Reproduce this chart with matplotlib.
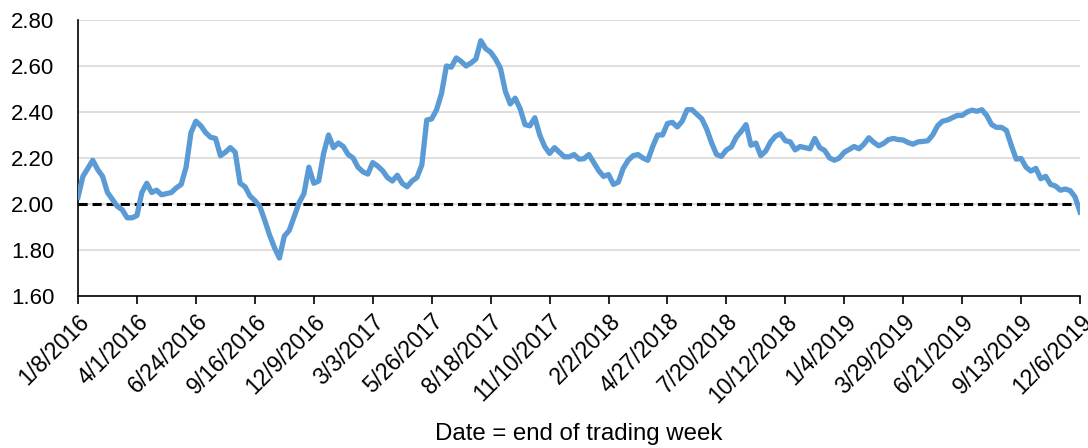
import matplotlib
matplotlib.use("Agg")
import matplotlib.pyplot as plt
import pandas as pd

# Weekly values, end of trading week, starting 1/8/2016
start_date = "2016-01-08"
values = [
    2.03, 2.12, 2.155, 2.19, 2.15, 2.12, 2.05, 2.02, 1.99, 1.975,
    1.94, 1.94, 1.95, 2.05, 2.09, 2.05, 2.06, 2.04, 2.045, 2.05,
    2.07, 2.085, 2.16, 2.31, 2.36, 2.34, 2.31, 2.29, 2.285, 2.21,
    2.225, 2.245, 2.225, 2.09, 2.075, 2.035, 2.015, 1.99, 1.93, 1.865,
    1.81, 1.765, 1.86, 1.885, 1.945, 2.005, 2.045, 2.16, 2.09, 2.10,
    2.22, 2.30, 2.245, 2.265, 2.25, 2.215, 2.20, 2.16, 2.14, 2.13,
    2.18, 2.165, 2.145, 2.115, 2.10, 2.125, 2.09, 2.075, 2.10, 2.115,
    2.17, 2.365, 2.37, 2.41, 2.48, 2.60, 2.595, 2.635, 2.62, 2.60,
    2.613, 2.63, 2.71, 2.675, 2.66, 2.63, 2.59, 2.49, 2.435, 2.46,
    2.415, 2.345, 2.34, 2.375, 2.30, 2.25, 2.22, 2.245, 2.225, 2.205,
    2.205, 2.215, 2.195, 2.197, 2.215, 2.18, 2.145, 2.12, 2.128, 2.085,
    2.095, 2.155, 2.19, 2.21, 2.215, 2.20, 2.19, 2.25, 2.30, 2.30,
    2.35, 2.355, 2.335, 2.36, 2.41, 2.41, 2.39, 2.37, 2.325, 2.265,
    2.215, 2.207, 2.235, 2.248, 2.29, 2.315, 2.345, 2.255, 2.265, 2.21,
    2.23, 2.27, 2.295, 2.305, 2.275, 2.27, 2.235, 2.25, 2.245, 2.24,
    2.285, 2.245, 2.233, 2.20, 2.19, 2.20, 2.225, 2.237, 2.25, 2.24,
    2.26, 2.288, 2.268, 2.253, 2.263, 2.28, 2.285, 2.28, 2.278, 2.267,
    2.26, 2.27, 2.272, 2.275, 2.30, 2.34, 2.36, 2.365, 2.375, 2.385,
    2.385, 2.40, 2.408, 2.403, 2.41, 2.385, 2.345, 2.333, 2.333, 2.32,
    2.255, 2.195, 2.198, 2.16, 2.143, 2.155, 2.11, 2.12, 2.085, 2.078,
    2.06, 2.065, 2.058, 2.03, 1.965,
]
reference_level = 2.00
y_ticks = [1.60, 1.80, 2.00, 2.20, 2.40, 2.60, 2.80]

dates = pd.date_range(start_date, periods=len(values), freq="7D")
tick_dates = dates[::12]
tick_labels = [f"{d.month}/{d.day}/{d.year}" for d in tick_dates]

plt.rcParams["font.family"] = ["Liberation Sans", "DejaVu Sans"]

fig = plt.figure(figsize=(10.88, 4.48), dpi=100)
ax = fig.add_axes([0.0717, 0.3393, 0.921, 0.6161])

ax.plot(dates, values, color="#5B9BD5", lw=3.8, solid_joinstyle="round", zorder=3)
ax.axhline(reference_level, color="black", lw=2.2, linestyle=(0, (3.0, 1.6)), zorder=2)

ax.set_xlim(dates[0], dates[-1])
ax.set_ylim(1.60, 2.80)
ax.set_yticks(y_ticks)
ax.set_yticklabels([f"{v:.2f}" for v in y_ticks], fontsize=16)
ax.set_xticks(tick_dates)
ax.set_xticklabels(tick_labels, rotation=45, ha="right", rotation_mode="anchor",
                   fontsize=16.5)

ax.grid(axis="y", color="#D9D9D9", lw=1.2, zorder=0)
ax.set_axisbelow(True)
ax.tick_params(axis="y", length=0, pad=17)
ax.tick_params(axis="x", length=6, width=1.2, pad=4)
for side in ["top", "right"]:
    ax.spines[side].set_visible(False)
for side in ["left", "bottom"]:
    ax.spines[side].set_linewidth(1.2)

box = ax.get_position()
fig.text((box.x0 + box.x1) / 2, 0.018, "Date = end of trading week",
         ha="center", va="baseline", fontsize=17.3)

fig.savefig("out.png", dpi=100)
